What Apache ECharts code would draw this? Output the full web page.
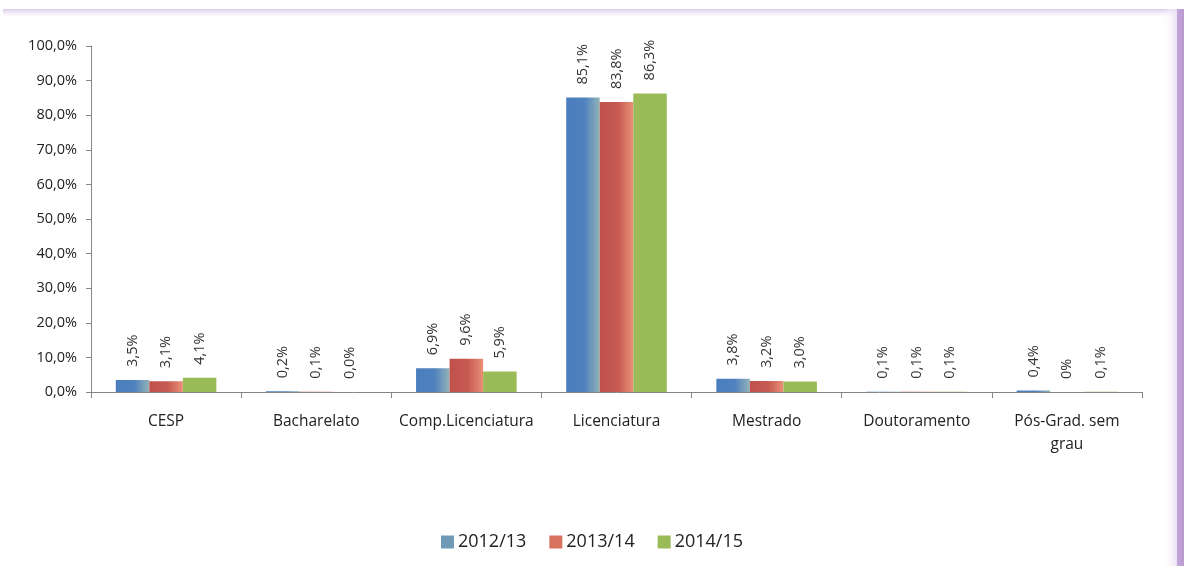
<!DOCTYPE html>
<html>
<head>
<meta charset="utf-8">
<script src="https://cdn.jsdelivr.net/npm/echarts@6/dist/echarts.min.js"></script>
<style>
  html, body { margin: 0; padding: 0; background: #fff; }
  #chart { width: 1184px; height: 566px; }
</style>
</head>
<body>
<div id="chart"></div>
<script>
// categorias e valores (%)
var categories = ['CESP', 'Bacharelato', 'Comp.Licenciatura', 'Licenciatura', 'Mestrado', 'Doutoramento', 'Pós-Grad. sem grau']
var seriesNames = ['2012/13', '2013/14', '2014/15']
var values1213 = [3.5, 0.2, 6.9, 85.1, 3.8, 0.1, 0.4]
var values1314 = [3.1, 0.1, 9.6, 83.8, 3.2, 0.1, 0]
var values1415 = [4.1, 0.0, 5.9, 86.3, 3.0, 0.1, 0.1]
// rótulos tal como aparecem no gráfico
var labels1213 = ['3,5%', '0,2%', '6,9%', '85,1%', '3,8%', '0,1%', '0,4%']
var labels1314 = ['3,1%', '0,1%', '9,6%', '83,8%', '3,2%', '0,1%', '0%']
var labels1415 = ['4,1%', '0,0%', '5,9%', '86,3%', '3,0%', '0,1%', '0,1%']

var font = '"Open Sans", "Noto Sans", sans-serif'
var myChart = echarts.init(document.getElementById('chart'))

function grad (c0, c1, c2) {
  return new echarts.graphic.LinearGradient(0, 0, 1, 0, [
    { offset: 0, color: c0 },
    { offset: 0.55, color: c1 },
    { offset: 1, color: c2 }
  ])
}
var colors = [
  grad('#4A7EBF', '#4F81BD', '#93B3B9'),
  grad('#C0504D', '#C65A52', '#EA9077'),
  '#9BBB59'
]
var legendColors = ['#6F9AB6', '#D7735F', '#9BBB59']

function makeSeries (i, vals, labels) {
  return {
    name: seriesNames[i],
    type: 'bar',
    data: vals,
    barGap: '0%',
    barCategoryGap: '33%',
    itemStyle: { color: colors[i] },
    label: {
      show: true,
      position: 'top',
      rotate: 90,
      align: 'left',
      verticalAlign: 'middle',
      distance: 13,
      fontFamily: font,
      fontSize: 14.5,
      color: '#333',
      formatter: function (p) { return labels[p.dataIndex] }
    }
  }
}

var option = {
  backgroundColor: '#fff',
  animation: false,
  graphic: [
    { // moldura: faixa superior
      type: 'rect', z: -10, silent: true,
      shape: { x: 3, y: 9, width: 1181, height: 10 },
      style: { fill: new echarts.graphic.LinearGradient(0, 0, 0, 1, [
        { offset: 0, color: '#DCCBEB' }, { offset: 1, color: 'rgba(255,255,255,0)' }]) }
    },
    { // moldura: lado direito
      type: 'rect', z: -10, silent: true,
      shape: { x: 1162, y: 9, width: 16, height: 557 },
      style: { fill: new echarts.graphic.LinearGradient(0, 0, 1, 0, [
        { offset: 0, color: 'rgba(255,255,255,0)' }, { offset: 1, color: '#E6DCF0' }]) }
    },
    {
      type: 'rect', z: -10, silent: true,
      shape: { x: 1177, y: 9, width: 7, height: 557 },
      style: { fill: new echarts.graphic.LinearGradient(0, 0, 1, 0, [
        { offset: 0, color: '#C4A6DA' }, { offset: 1, color: '#B99BD0' }]) }
    }
  ],
  legend: {
    bottom: 10,
    left: 'center',
    itemWidth: 13,
    itemHeight: 13,
    itemGap: 23,
    icon: 'rect',
    textStyle: { fontFamily: font, fontSize: 18, color: '#222', padding: [0, 0, 0, -1] },
    data: seriesNames.map(function (n, i) {
      return { name: n, itemStyle: { color: legendColors[i] } }
    })
  },
  grid: { left: 91, right: 42, top: 46, bottom: 174 },
  xAxis: {
    type: 'category',
    data: categories,
    axisLine: { lineStyle: { color: '#868686', width: 1 } },
    axisTick: { show: true, length: 6, lineStyle: { color: '#868686' } },
    axisLabel: {
      interval: 0,
      margin: 18,
      fontFamily: font,
      fontSize: 15.5,
      lineHeight: 23,
      color: '#222',
      formatter: function (v) { return v === 'Pós-Grad. sem grau' ? 'Pós-Grad. sem\ngrau' : v }
    }
  },
  yAxis: {
    type: 'value',
    min: 0,
    max: 100,
    interval: 10,
    axisLine: { show: true, lineStyle: { color: '#868686' } },
    axisTick: { show: true, length: 5, lineStyle: { color: '#868686' } },
    splitLine: { show: false },
    axisLabel: {
      margin: 14,
      fontFamily: font,
      fontSize: 14.5,
      color: '#222',
      formatter: function (v) { return v.toFixed(1).replace('.', ',') + '%' }
    }
  },
  series: [
    makeSeries(0, values1213, labels1213),
    makeSeries(1, values1314, labels1314),
    makeSeries(2, values1415, labels1415)
  ]
}
myChart.setOption(option)
</script>
</body>
</html>
